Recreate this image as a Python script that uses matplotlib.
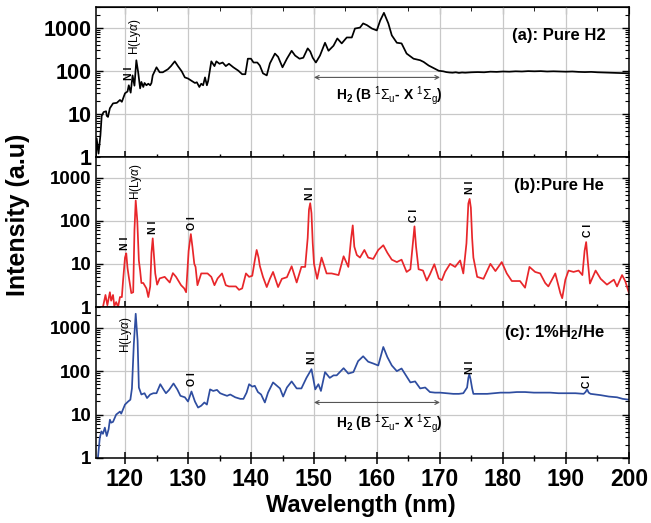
import matplotlib
matplotlib.use('Agg')
import matplotlib.pyplot as plt
from matplotlib.ticker import FixedLocator, FixedFormatter, MultipleLocator, LogLocator, NullFormatter

plt.rcParams['font.family'] = ['Liberation Sans', 'DejaVu Sans']
plt.rcParams['mathtext.fontset'] = 'custom'
plt.rcParams['mathtext.rm'] = 'Liberation Sans'
plt.rcParams['mathtext.it'] = 'Liberation Sans:italic'
plt.rcParams['mathtext.bf'] = 'Liberation Sans:bold'

# ---------------- data ----------------
# (a) Pure H2
a_wl = [115.4, 115.5, 115.8, 116.1, 116.3, 116.6, 117.0, 117.1, 117.3, 117.6, 118.1, 118.7,
        119.2, 119.5, 120.0, 120.4, 120.6, 120.9, 121.2, 121.5, 121.8, 122.1, 122.4, 122.6,
        122.9, 123.1, 123.4, 123.7, 124.0, 124.2, 124.4, 125.0, 125.5, 126.0, 126.8, 127.3,
        127.9, 128.4, 129.0, 129.5, 130.0, 130.6, 131.1, 131.4, 131.8, 132.1, 132.4, 132.7,
        133.0, 133.2, 133.7, 134.2, 134.5, 135.0, 135.5, 136.0, 136.5, 137.2, 138.0, 138.6,
        139.1, 139.5, 140.0, 140.4, 141.0, 141.4, 141.9, 142.5, 143.0, 143.8, 144.3, 145.0,
        145.7, 146.45, 147.0, 147.7, 148.3, 149.0, 149.4, 149.8, 150.3, 150.95, 151.75, 152.3,
        153.1, 153.7, 154.4, 155.2, 156.0, 156.5, 157.3, 157.8, 158.4, 159.2, 159.97, 160.5,
        161.1, 161.8, 162.35, 163.15, 163.9, 164.7, 165.8, 166.85, 167.4, 168.2, 169.0, 169.8,
        170.5, 171.0, 171.5, 172.0, 172.5, 173.0, 173.5, 174.0, 175.0, 176.0, 177.0, 178.0,
        179.0, 180.0, 181.0, 182.0, 183.0, 184.0, 185.0, 186.0, 187.0, 188.0, 189.0, 190.0,
        191.0, 192.0, 193.0, 194.0, 195.0, 196.0, 197.0, 198.0, 199.0, 200.0]
a_val = [1.0, 2.7, 1.2, 3.2, 9, 11, 11.5, 9, 8.5, 13.5, 17.5, 18,
         21, 19, 30, 33, 46, 31, 78, 45, 175, 90, 39, 55,
         42, 52, 46, 50, 46, 52, 78, 120, 92, 92, 108, 128,
         165, 128, 97, 70, 66, 58, 52, 54, 42, 50, 46, 70,
         46, 58, 165, 128, 165, 145, 155, 128, 145, 120, 100, 83,
         83, 190, 190, 155, 155, 132, 87, 78, 148, 250, 210, 120,
         190, 290, 225, 190, 200, 330, 280, 200, 155, 225, 445, 290,
         380, 560, 430, 590, 590, 950, 1000, 1250, 1140, 950, 860, 1450,
         2200, 1250, 660, 445, 430, 250, 190, 175, 160, 132, 115, 100,
         97, 93, 91, 90, 92, 89, 91, 90, 92, 93, 92, 95,
         94, 96, 95, 97, 96, 98, 97, 98, 96, 97, 96, 95,
         96, 94, 93, 94, 92, 91, 90, 89, 88, 87]

# (b) Pure He
b_wl = [116.5, 116.9, 117.2, 117.6, 117.8, 118.1, 118.3, 118.6, 118.9, 119.2, 119.5, 119.7,
        120.0, 120.2, 120.4, 120.6, 121.0, 121.3, 121.5, 121.7, 121.95, 122.2, 122.4, 122.6,
        122.9, 123.4, 123.7, 124.0, 124.2, 124.4, 124.6, 124.8, 125.1, 125.5, 126.3, 127.1,
        127.6, 128.1, 128.9, 129.4, 129.7, 130.1, 130.45, 130.7, 131.0, 131.2, 131.5, 132.1,
        132.6, 133.1, 133.7, 134.2, 134.7, 135.4, 136.0, 136.5, 137.6, 138.1, 138.6, 139.2,
        139.7, 140.2, 140.6, 140.9, 141.2, 141.4, 141.9, 142.5, 143.0, 143.5, 144.3, 144.9,
        145.7, 146.45, 147.25, 148.0, 148.6, 149.0, 149.2, 149.4, 149.6, 149.8, 150.0, 150.5,
        151.2, 152.0, 152.8, 153.9, 154.7, 155.45, 155.9, 156.15, 156.4, 156.8, 157.3, 158.0,
        158.6, 159.4, 160.2, 161.0, 161.65, 162.35, 163.15, 163.9, 164.7, 165.3, 165.7, 165.95,
        166.2, 166.6, 167.3, 167.9, 168.4, 169.1, 169.8, 170.3, 170.8, 171.6, 172.4, 173.2,
        173.7, 174.2, 174.5, 174.7, 174.9, 175.1, 175.3, 175.9, 176.9, 178.0, 178.8, 179.8,
        180.6, 181.4, 182.7, 183.5, 184.2, 185.1, 185.9, 186.7, 187.2, 188.3, 189.1, 189.4,
        189.9, 190.4, 191.2, 192.0, 192.6, 192.95, 193.2, 193.45, 193.8, 194.7, 195.5, 196.5,
        197.6, 198.1, 198.9, 199.4, 200.0]
b_val = [1.0, 1.9, 1.1, 2.2, 1.4, 1.9, 1.05, 1.3, 1.0, 1.7, 1.7, 4.2,
         14, 17.5, 8, 5, 2.1, 2.2, 60, 295, 100, 12, 7, 3.6,
         3.6, 2.7, 1.7, 3.0, 18, 39, 15, 6, 3.3, 4.6, 5.0, 3.7,
         6.1, 5.0, 3.2, 2.7, 2.2, 20, 49, 25, 10, 8.5, 3.2, 6.0,
         6.0, 6.0, 5.0, 3.2, 4.6, 6.0, 3.2, 3.0, 3.0, 2.5, 2.7, 6.0,
         5.0, 5.3, 12, 21, 14, 9, 5, 2.9, 4.5, 6.5, 2.9, 4.5,
         4.9, 8.8, 3.7, 8.5, 8.5, 40, 180, 255, 150, 30, 10, 4.5,
         14, 6, 6, 5.5, 15, 8.5, 40, 78, 25, 16, 14, 21,
         14, 13, 21, 27, 18, 12.5, 11, 12.5, 6.5, 7.5, 30, 74,
         25, 7.5, 7.0, 4.1, 5.7, 9.8, 4.6, 4.2, 6.5, 10, 8.5, 12,
         6.0, 30, 250, 320, 200, 40, 14, 5.0, 4.5, 10, 6.8, 11,
         6.0, 4.0, 4.0, 2.8, 8.5, 6.5, 6.0, 3.6, 3.0, 6.0, 2.1, 1.6,
         4.3, 7.0, 6.5, 7.0, 5.5, 20, 32, 12, 3.5, 7.0, 4.5, 3.3,
         4.3, 3.0, 5.5, 4.0, 2.1]

# (c) 1% H2 / He
c_wl = [115.7, 116.0, 116.25, 116.5, 116.8, 117.1, 117.4, 117.6, 117.8, 118.1, 118.6, 119.2,
        119.4, 120.0, 120.5, 120.85, 121.1, 121.4, 121.7, 122.0, 122.2, 122.6, 123.1, 123.5,
        124.0, 124.5, 125.0, 125.6, 126.1, 126.5, 127.0, 127.7, 128.3, 128.8, 129.5, 130.0,
        130.55, 131.1, 131.6, 132.1, 132.6, 133.0, 133.5, 134.0, 134.6, 135.1, 135.6, 136.2,
        136.7, 137.5, 138.3, 138.8, 139.3, 139.7, 140.2, 140.6, 141.1, 141.6, 142.2, 142.7,
        143.5, 144.6, 145.1, 145.7, 146.45, 147.25, 148.0, 148.8, 149.6, 150.2, 150.7, 151.1,
        151.75, 152.5, 153.1, 153.6, 154.7, 155.45, 156.25, 157.0, 157.8, 158.6, 159.4, 160.2,
        161.0, 161.65, 162.35, 163.15, 163.9, 164.7, 165.3, 166.05, 166.85, 167.65, 168.4, 169.2,
        170.0, 171.0, 172.1, 173.0, 173.7, 174.3, 174.5, 174.65, 174.85, 175.1, 175.3, 176.5,
        177.5, 178.5, 179.6, 181.0, 182.2, 183.5, 184.9, 186.2, 187.5, 188.8, 190.2, 191.5,
        192.8, 193.1, 193.35, 193.6, 193.9, 195.5, 196.8, 198.1, 199.0, 200.0]
c_val = [1.0, 2.9, 4.1, 3.6, 5.0, 3.2, 4.6, 7.6, 6.5, 6.8, 10, 11.7,
         10.5, 17, 20, 22, 40, 420, 2100, 500, 42, 29, 31, 24,
         29, 31, 31, 50, 38, 31, 37, 52, 38, 27, 25, 20,
         34, 20, 14.5, 16, 19, 17, 38, 35, 37, 31, 29, 27,
         29, 25, 23, 23, 32, 50, 44, 46, 33, 29, 19, 32,
         55, 40, 26, 42, 58, 40, 40, 70, 111, 38, 50, 35,
         95, 70, 80, 80, 117, 88, 95, 170, 220, 165, 150, 135,
         360, 210, 135, 100, 115, 75, 55, 58, 40, 42, 33, 32,
         32, 31, 30, 30, 31, 42, 70, 85, 65, 40, 30, 30,
         30, 31, 32, 32, 33, 33, 32, 32, 32, 31, 31, 31,
         30, 33, 38, 32, 30, 28, 26, 25, 23, 22]

xticks = [120, 130, 140, 150, 160, 170, 180, 190, 200]
yticks = [1, 10, 100, 1000]
ytick_labels = ['1', '10', '100', '1000']

# ---------------- figure ----------------
fig = plt.figure(figsize=(6.51, 5.23), dpi=100)
L, W = 0.1475, 0.8187
axa = fig.add_axes([L, 0.6998, W, 0.2868])
axb = fig.add_axes([L, 0.4130, W, 0.2868])
axc = fig.add_axes([L, 0.1243, W, 0.2887])

grid_col = '#c8c8c8'
for ax, ysize in ((axa, 15.5), (axb, 13.5), (axc, 13.5)):
    ax.set_yscale('log')
    ax.set_xlim(115.4, 200)
    ax.set_ylim(1, 3000)
    ax.xaxis.set_major_locator(FixedLocator(xticks))
    ax.xaxis.set_minor_locator(MultipleLocator(5))
    ax.yaxis.set_major_locator(FixedLocator(yticks))
    ax.yaxis.set_major_formatter(FixedFormatter(ytick_labels))
    ax.yaxis.set_minor_locator(LogLocator(base=10, subs=range(2, 10)))
    ax.yaxis.set_minor_formatter(NullFormatter())
    ax.grid(True, which='major', color=grid_col, lw=0.9)
    ax.set_axisbelow(True)
    ax.tick_params(axis='x', which='major', direction='inout', length=8, width=1.1, bottom=True, top=False)
    ax.tick_params(axis='x', which='minor', direction='inout', length=5, width=1.0, bottom=True, top=False)
    ax.tick_params(axis='y', which='major', direction='in', length=5, width=1.0, left=True, right=True)
    ax.tick_params(axis='y', which='minor', direction='in', length=3, width=0.8, left=True, right=True)
    for lab in ax.get_yticklabels():
        lab.set_fontweight('bold')
        lab.set_fontsize(ysize)
    for s in ax.spines.values():
        s.set_linewidth(1.1)

for ax in (axa, axb):
    ax.tick_params(axis='x', labelbottom=False)
for lab in axc.get_xticklabels():
    lab.set_fontweight('bold')
    lab.set_fontsize(16.5)

sec = axa.secondary_xaxis('top')
sec.xaxis.set_major_locator(FixedLocator(xticks))
sec.xaxis.set_minor_locator(MultipleLocator(5))
sec.tick_params(which='major', direction='in', length=5, labeltop=False)
sec.tick_params(which='minor', direction='in', length=3, labeltop=False)

axa.plot(a_wl, a_val, color='black', lw=1.25)
axb.plot(b_wl, b_val, color='#e8262a', lw=1.25)
axc.plot(c_wl, c_val, color='#2e4da0', lw=1.25)

# panel titles
axa.text(0.869, 0.813, '(a): Pure H2', transform=axa.transAxes, ha='center', va='center',
         fontsize=12, fontweight='bold')
axb.text(0.869, 0.813, '(b):Pure He', transform=axb.transAxes, ha='center', va='center',
         fontsize=12, fontweight='bold')
axc.text(0.86, 0.83, '(c): 1%H$_\\mathbf{2}$/He', transform=axc.transAxes, ha='center', va='center',
         fontsize=12, fontweight='bold')

lya = 'H(Ly$\\alpha$)'

def lbl(ax, x, y, s, bold=True, size=7.5):
    ax.text(x, y, s, rotation=90, ha='center', va='center', fontsize=size,
            fontweight='bold' if bold else 'normal')

# panel a labels
lbl(axa, 120.6, 85, 'N I')
lbl(axa, 121.6, 620, lya, bold=False, size=8.5)
# panel b labels
lbl(axb, 120.0, 30, 'N I')
lbl(axb, 121.7, 810, lya, bold=False, size=8.5)
lbl(axb, 124.4, 70, 'N I')
lbl(axb, 130.7, 87, 'O I')
lbl(axb, 149.4, 430, 'N I')
lbl(axb, 165.9, 133, 'C I')
lbl(axb, 174.7, 590, 'N I')
lbl(axb, 193.55, 60, 'C I')
# panel c labels
lbl(axc, 120.1, 690, lya, bold=False, size=8.5)
lbl(axc, 130.6, 65, 'O I')
lbl(axc, 149.7, 210, 'N I')
lbl(axc, 174.75, 124, 'N I')
lbl(axc, 193.4, 59, 'C I')

h2_text = 'H$_\\mathbf{2}$ (B $^{1}\\Sigma_{\\mathrm{u}}$- X $^{1}\\Sigma_{\\mathrm{g}}$)'
for ax, ya, yt in ((axa, 70, 27), (axc, 19, 6.2)):
    ax.annotate('', xy=(150, ya), xytext=(170, ya),
                arrowprops=dict(arrowstyle='<->', color='#555555', lw=0.8,
                                shrinkA=0, shrinkB=0, mutation_scale=7))
    ax.text(162, yt, h2_text, ha='center', va='center', fontsize=10, fontweight='bold')

fig.text(0.027, 0.589, 'Intensity (a.u)', rotation=90, ha='center', va='center',
         fontsize=18, fontweight='bold')
fig.text(0.555, 0.034, 'Wavelength (nm)', ha='center', va='center',
         fontsize=17, fontweight='bold')

fig.savefig('out.png', dpi=100)
